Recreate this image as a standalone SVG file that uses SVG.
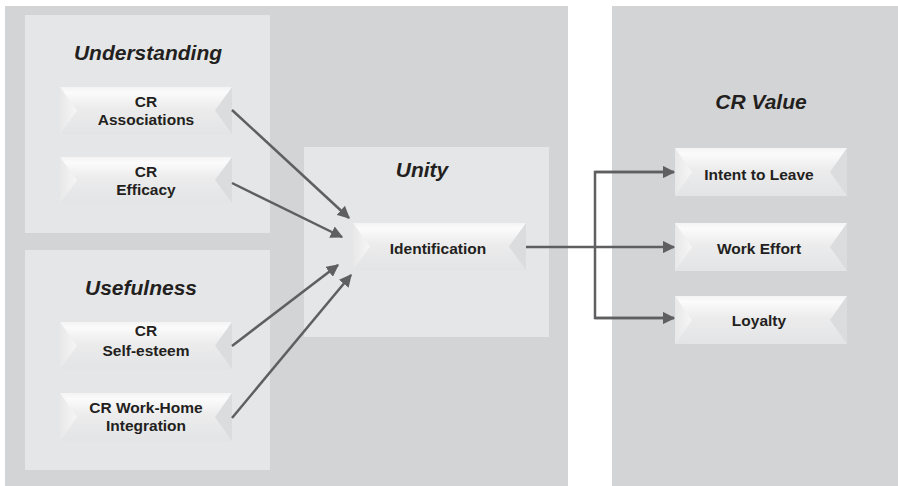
<svg xmlns="http://www.w3.org/2000/svg" width="898" height="486" viewBox="0 0 898 486">
<defs>
<linearGradient id="nodeG" x1="0" y1="0" x2="0" y2="1">
<stop offset="0" stop-color="#f4f4f5"/>
<stop offset="0.12" stop-color="#fbfbfb"/>
<stop offset="0.45" stop-color="#ececed"/>
<stop offset="1" stop-color="#e3e4e5"/>
</linearGradient>
<linearGradient id="leftG" x1="0" y1="0" x2="1" y2="0">
<stop offset="0" stop-color="#e8e8e9"/>
<stop offset="1" stop-color="#f6f6f6"/>
</linearGradient>
<marker id="arr" viewBox="0 0 10 10" refX="9" refY="5" markerWidth="5" markerHeight="5" orient="auto" markerUnits="strokeWidth">
<path d="M0,0 L10,5 L0,10 z" fill="#5f5f61"/>
</marker>
<symbol id="node" viewBox="0 0 172 48" preserveAspectRatio="none">
<rect x="0" y="0" width="172" height="48" fill="url(#nodeG)"/>
<polygon points="0,0 17,24 0,48" fill="url(#leftG)"/>
<polygon points="172,0 155,24 172,48" fill="#dbdcdd"/>
</symbol>
</defs>
<style>
.panel{fill:#d3d4d6}
.inner{fill:#e5e6e7}
.title{font-family:"Liberation Sans",Arial,sans-serif;font-weight:bold;font-style:italic;font-size:21px;fill:#231f20;text-anchor:middle}
.lbl{font-family:"Liberation Sans",Arial,sans-serif;font-weight:bold;font-size:15.5px;fill:#231f20;text-anchor:middle}
.conn{stroke:#5f5f61;stroke-width:2.5;fill:none}
</style>
<rect class="panel" x="5" y="6" width="563" height="480"/>
<rect class="panel" x="612" y="6" width="286" height="480"/>
<g id="understanding">
<rect class="inner" x="25" y="15" width="245" height="218"/>
<text class="title" x="148" y="60">Understanding</text>
</g>
<g id="usefulness">
<rect class="inner" x="25" y="250" width="245" height="220"/>
<text class="title" x="141" y="295">Usefulness</text>
</g>
<g id="unity">
<rect class="inner" x="304" y="147" width="245" height="190"/>
<text class="title" x="422" y="177">Unity</text>
</g>
<g id="crvalue">
<text class="title" x="761" y="109">CR Value</text>
</g>
<g id="n-assoc">
<use href="#node" x="60" y="87" width="172" height="47"/>
<text class="lbl" x="146" y="107">CR</text>
<text class="lbl" x="146" y="125">Associations</text>
</g>
<g id="n-efficacy">
<use href="#node" x="60" y="157" width="172" height="46"/>
<text class="lbl" x="146" y="177">CR</text>
<text class="lbl" x="146" y="195">Efficacy</text>
</g>
<g id="n-selfesteem">
<use href="#node" x="60" y="322" width="172" height="47"/>
<text class="lbl" x="146" y="336">CR</text>
<text class="lbl" x="146" y="356">Self-esteem</text>
</g>
<g id="n-workhome">
<use href="#node" x="60" y="393" width="172" height="48"/>
<text class="lbl" x="146" y="413">CR Work-Home</text>
<text class="lbl" x="146" y="431">Integration</text>
</g>
<g id="n-ident">
<use href="#node" x="353" y="223" width="173" height="47"/>
<text class="lbl" x="438" y="254">Identification</text>
</g>
<g id="n-intent">
<use href="#node" x="675" y="148" width="172" height="48"/>
<text class="lbl" x="759" y="180">Intent to Leave</text>
</g>
<g id="n-effort">
<use href="#node" x="675" y="223" width="172" height="48"/>
<text class="lbl" x="759" y="254">Work Effort</text>
</g>
<g id="n-loyalty">
<use href="#node" x="675" y="296" width="172" height="48"/>
<text class="lbl" x="759" y="326">Loyalty</text>
</g>
<g id="connectors">
<line class="conn" x1="232" y1="110" x2="349" y2="218" marker-end="url(#arr)"/>
<line class="conn" x1="232" y1="183" x2="342" y2="237" marker-end="url(#arr)"/>
<line class="conn" x1="232" y1="346" x2="338" y2="265" marker-end="url(#arr)"/>
<line class="conn" x1="232" y1="418" x2="351" y2="275" marker-end="url(#arr)"/>
<polyline class="conn" points="526,247 674,247" marker-end="url(#arr)"/>
<polyline class="conn" points="674,172 595,172 595,318 674,318"/>
<line class="conn" x1="595" y1="172" x2="674" y2="172" marker-end="url(#arr)"/>
<line class="conn" x1="595" y1="318" x2="674" y2="318" marker-end="url(#arr)"/>
</g>
</svg>
